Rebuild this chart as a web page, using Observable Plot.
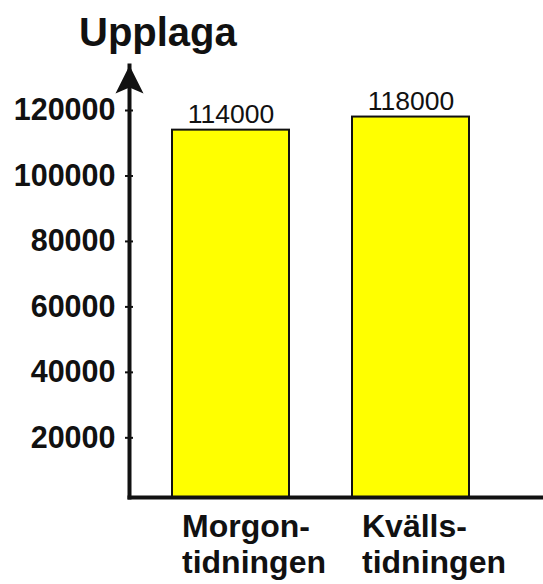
<!DOCTYPE html>
<html><head><meta charset="utf-8">
<script src="https://cdn.jsdelivr.net/npm/d3@7"></script>
<script src="https://cdn.jsdelivr.net/npm/@observablehq/plot@0.6"></script>
<style>
body{margin:0;background:#fff;font-family:"Liberation Sans",Arial,sans-serif}
#title{height:55px;font-weight:bold;font-size:40px;line-height:64px;padding-left:79px;color:#111}
</style></head><body>
<div id="title">Upplaga</div>
<div id="chart"></div>
<script>
const categories = ["Morgontidningen", "Kvällstidningen"];
const categoryLabels = ["Morgon-\ntidningen", "Kvälls-\ntidningen"];
const circulation = [114000, 118000];
const yTicks = [20000, 40000, 60000, 80000, 100000, 120000];
const yDomain = [1770, 133750];

const data = categories.map((c, i) => ({category: c, label: categoryLabels[i], value: circulation[i]}));

const arrowHead = {draw(ctx) {ctx.moveTo(0, 0); ctx.lineTo(14, 28); ctx.lineTo(0, 22); ctx.lineTo(-14, 28); ctx.closePath();}};

const chart = Plot.plot({
  width: 543, height: 529,
  marginTop: 10, marginLeft: 129, marginRight: 0, marginBottom: 87,
  style: {fontFamily: "'Liberation Sans', Arial, sans-serif", color: "#111", background: "#fff"},
  x: {domain: categories, paddingInner: 0.35, paddingOuter: 0.325, align: 0.3675, axis: null},
  y: {domain: yDomain, axis: null},
  marks: [
    Plot.barY(data, {x: "category", y: "value", fill: "#ffff00", stroke: "#111", strokeWidth: 2, clip: true}),
    Plot.text(data, {x: "category", y: "value", text: d => String(d.value), lineAnchor: "bottom", dy: -7, fontSize: 26.5, fill: "#111"}),
    Plot.axisY({ticks: yTicks, label: null, tickSize: 8, dx: 4, tickPadding: 10, tickFormat: d => String(d), fontSize: 30.5, fontWeight: "bold", strokeWidth: 2}),
    Plot.text(data, {x: "category", text: "label", frameAnchor: "bottom", lineAnchor: "top", textAnchor: "start", dx: -49, dy: 14, fontSize: 32, fontWeight: "bold", lineHeight: 1.13, fill: "#111"}),
    Plot.frame({anchor: "left", stroke: "#111", strokeWidth: 4}),
    Plot.frame({anchor: "bottom", stroke: "#111", strokeWidth: 4}),
    Plot.dot([0], {frameAnchor: "top-left", symbol: arrowHead, fill: "#111", stroke: "none"})
  ]
});
document.getElementById("chart").appendChild(chart);
</script>
</body></html>
